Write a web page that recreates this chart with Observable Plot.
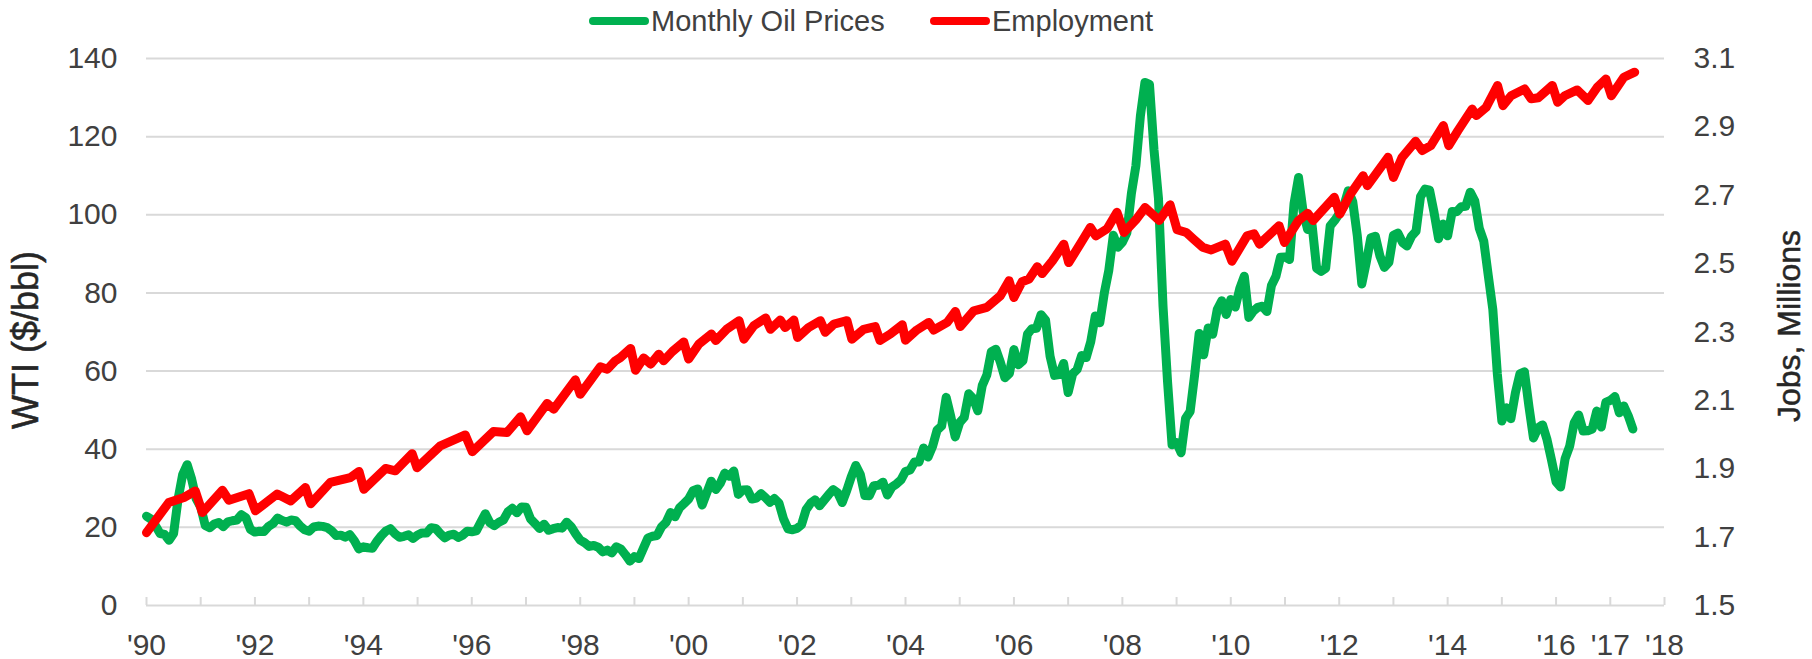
<!DOCTYPE html>
<html>
<head>
<meta charset="utf-8">
<script src="https://cdn.jsdelivr.net/npm/d3@7"></script>
<script src="https://cdn.jsdelivr.net/npm/@observablehq/plot@0.6"></script>
<style>
  body { margin: 0; background: #fff; font-family: "Liberation Sans", Arial, sans-serif; color: #404040; }
  #wrap { position: relative; width: 1812px; height: 659px; }
  #legend { position: relative; height: 42px; }
  .item { position: absolute; top: 0; height: 42px; display: flex; align-items: center; font-size: 29px; white-space: nowrap; }
  .swatch { width: 60px; height: 8px; border-radius: 4px; margin-right: 2px; }
  .title { position: absolute; transform: translate(-50%, -50%) rotate(-90deg); white-space: nowrap; font-weight: normal; color: #262626; -webkit-text-stroke: 0.5px #262626; }
</style>
</head>
<body>
<div id="wrap">
  <div id="legend"></div>
  <div id="chart"></div>
  <div class="title" style="left:26px;top:340px;font-size:36px">WTI ($/bbl)</div>
  <div class="title" style="left:1789px;top:326px;font-size:32px">Jobs, Millions</div>
</div>
<script>
// ---- Data ----
const seriesNames = ["Monthly Oil Prices", "Employment"];
const seriesColors = ["#00B050", "#FF0000"];

// WTI monthly average, Jan 1990 .. Jun 2017 ($/bbl)
const oilStartYear = 1990;
const oilPrices = [
  22.86,22.11,20.39,18.43,18.20,16.70,18.45,27.31,33.51,36.04,32.33,27.28, // 1990
  25.23,20.48,19.90,20.83,21.23,20.19,21.40,21.69,21.89,23.23,22.46,19.50, // 1991
  18.79,19.01,18.92,20.23,20.98,22.39,21.78,21.34,21.88,21.69,20.34,19.41, // 1992
  19.03,20.09,20.32,20.25,19.95,19.09,17.89,18.01,17.50,18.15,16.61,14.52, // 1993
  15.03,14.78,14.68,16.42,17.89,19.06,19.66,18.38,17.45,17.72,18.07,17.16, // 1994
  18.04,18.57,18.54,19.90,19.74,18.45,17.33,18.02,18.23,17.43,17.99,19.03, // 1995
  18.86,19.09,21.33,23.50,21.17,20.42,21.30,21.90,23.97,24.88,23.71,25.23, // 1996
  25.13,22.18,20.97,19.70,20.82,19.26,19.66,19.95,19.80,21.33,20.19,18.33, // 1997
  16.72,16.06,15.12,15.35,14.91,13.72,14.17,13.47,15.03,14.46,13.00,11.35, // 1998
  12.52,12.01,14.68,17.31,17.72,17.92,20.10,21.28,23.80,22.69,25.00,26.10, // 1999
  27.26,29.37,29.84,25.72,28.79,31.82,29.70,31.26,33.88,33.11,34.42,28.44, // 2000
  29.59,29.61,27.25,27.49,28.63,27.60,26.43,27.37,26.20,22.17,19.64,19.39, // 2001
  19.72,20.72,24.53,26.18,27.04,25.52,26.97,28.39,29.66,28.84,26.35,29.46, // 2002
  32.95,35.83,33.51,28.17,28.11,30.66,30.75,31.57,28.31,30.34,31.11,32.13, // 2003
  34.31,34.69,36.74,36.75,40.28,38.03,40.78,44.90,45.94,53.28,48.47,43.15, // 2004
  46.84,48.15,54.19,52.98,49.83,56.35,58.99,64.98,65.59,62.26,58.32,59.41, // 2005
  65.49,61.63,62.69,69.44,70.84,70.95,74.41,73.04,63.80,58.89,59.08,61.96, // 2006
  54.51,59.28,60.44,63.98,63.46,67.49,74.12,72.36,79.92,85.80,94.77,91.69, // 2007
  92.97,95.39,105.45,112.58,125.40,133.88,133.37,116.67,104.11,76.61,57.31,41.12, // 2008
  41.71,39.09,47.94,49.65,59.03,69.64,64.15,71.05,69.41,75.72,77.99,74.47, // 2009
  78.33,76.39,81.20,84.29,73.74,75.34,76.32,76.60,75.24,81.89,84.25,89.15, // 2010
  89.17,88.58,102.86,109.53,100.90,96.26,97.30,86.33,85.52,86.32,97.16,98.56, // 2011
  100.27,102.20,106.16,103.32,94.66,82.30,87.90,94.13,94.51,89.49,86.53,87.86, // 2012
  94.76,95.31,92.94,92.02,94.51,95.77,104.67,106.57,106.29,100.54,93.86,97.63, // 2013
  94.62,100.82,100.80,102.07,102.18,105.79,103.59,96.54,93.21,84.40,75.79,59.29, // 2014
  47.22,50.58,47.82,54.45,59.27,59.82,50.90,42.87,45.48,46.22,42.44,37.19, // 2015
  31.68,30.32,37.55,40.75,46.71,48.76,44.65,44.72,45.18,49.78,45.66,51.97, // 2016
  52.50,53.47,49.33,51.06,48.48,45.18                                      // 2017
];

// Employment (millions) at its turning points
const jobsDates = [
  1990.00,1990.41,1990.69,1990.90,1991.03,1991.40,1991.52,1991.89,1992.01,1992.41,
  1992.66,1992.93,1993.03,1993.39,1993.76,1993.92,1994.01,1994.41,1994.59,1994.90,
  1994.99,1995.42,1995.88,1996.01,1996.40,1996.65,1996.90,1997.02,1997.39,1997.51,
  1997.91,1998.00,1998.37,1998.50,1998.65,1998.74,1998.93,1999.02,1999.17,1999.30,
  1999.45,1999.54,1999.70,1999.91,2000.00,2000.19,2000.42,2000.50,2000.70,2000.93,
  2001.02,2001.20,2001.42,2001.51,2001.69,2001.78,2001.94,2002.01,2002.21,2002.43,
  2002.52,2002.68,2002.92,2003.01,2003.23,2003.44,2003.53,2003.72,2003.94,2004.00,
  2004.21,2004.43,2004.52,2004.77,2004.92,2005.01,2005.26,2005.50,2005.75,2005.91,
  2006.00,2006.15,2006.28,2006.43,2006.52,2006.71,2006.92,2007.01,2007.23,2007.41,
  2007.51,2007.72,2007.90,2008.03,2008.26,2008.42,2008.68,2008.88,2009.01,2009.18,
  2009.31,2009.48,2009.64,2009.90,2010.02,2010.30,2010.43,2010.53,2010.89,2010.99,
  2011.25,2011.42,2011.52,2011.91,2012.01,2012.21,2012.44,2012.52,2012.90,2013.00,
  2013.16,2013.41,2013.53,2013.69,2013.92,2014.02,2014.19,2014.45,2014.53,2014.71,
  2014.92,2015.02,2015.17,2015.42,2015.54,2015.67,2015.93,2016.03,2016.16,2016.39,
  2016.59,2016.76,2016.92,2017.02,2017.25,2017.45
];
const jobsValues = [
  1.713,1.801,1.816,1.835,1.772,1.837,1.808,1.827,1.777,1.826,
  1.806,1.845,1.798,1.860,1.874,1.892,1.840,1.901,1.894,1.944,
  1.903,1.967,1.999,1.950,2.009,2.006,2.052,2.011,2.091,2.074,
  2.160,2.118,2.198,2.191,2.216,2.225,2.252,2.188,2.224,2.206,
  2.235,2.216,2.243,2.271,2.221,2.265,2.294,2.275,2.308,2.333,
  2.279,2.318,2.341,2.308,2.335,2.313,2.335,2.284,2.313,2.333,
  2.299,2.323,2.333,2.279,2.308,2.316,2.275,2.294,2.321,2.276,
  2.306,2.328,2.306,2.328,2.360,2.316,2.362,2.372,2.406,2.450,
  2.401,2.447,2.455,2.491,2.471,2.508,2.557,2.503,2.559,2.606,
  2.581,2.602,2.650,2.591,2.630,2.664,2.626,2.672,2.599,2.591,
  2.572,2.548,2.540,2.557,2.507,2.581,2.587,2.557,2.611,2.562,
  2.626,2.647,2.626,2.694,2.645,2.704,2.757,2.728,2.811,2.752,
  2.811,2.858,2.831,2.845,2.904,2.845,2.889,2.952,2.933,2.957,
  3.021,2.962,2.991,3.011,2.982,2.985,3.021,2.972,2.991,3.008,
  2.977,3.016,3.040,2.991,3.045,3.060
];

// Axis ticks
const wtiTicks = [0, 20, 40, 60, 80, 100, 120, 140];
const jobsTicks = [1.5, 1.7, 1.9, 2.1, 2.3, 2.5, 2.7, 2.9, 3.1];
const yearTickMarks = d3.range(1990, 2019);
const yearLabels = [1990,1992,1994,1996,1998,2000,2002,2004,2006,2008,2010,2012,2014,2016,2017,2018];

// ---- Build ----
const wtiMin = 0, wtiMax = 140, jobsMin = 1.5, jobsMax = 3.1;
const toW = j => (j - jobsMin) / (jobsMax - jobsMin) * (wtiMax - wtiMin) + wtiMin;
const fromW = w => (w - wtiMin) / (wtiMax - wtiMin) * (jobsMax - jobsMin) + jobsMin;

const oilData = oilPrices.map((v, i) => ({t: oilStartYear + i / 12, v}));
const jobsData = jobsDates.map((t, i) => ({t, v: jobsValues[i]}));

const legend = document.getElementById("legend");
const legendLefts = [589, 930];
seriesNames.forEach((name, i) => {
  const it = document.createElement("div");
  it.className = "item";
  it.style.left = legendLefts[i] + "px";
  it.innerHTML = `<span class="swatch" style="background:${seriesColors[i]}"></span><span>${name}</span>`;
  legend.appendChild(it);
});

const gridColor = "#d9d9d9";
const chart = Plot.plot({
  width: 1812,
  height: 617,
  marginTop: 16,
  marginBottom: 54,
  marginLeft: 146,
  marginRight: 148,
  style: {fontFamily: "'Liberation Sans', Arial, sans-serif", fontSize: "30px", color: "#404040", background: "white", overflow: "visible"},
  x: {domain: [1990, 2018]},
  y: {domain: [wtiMin, wtiMax]},
  marks: [
    Plot.ruleY(wtiTicks, {stroke: gridColor, strokeWidth: 2}),
    Plot.ruleX(yearTickMarks, {x: d => d, y1: 0, y2: 0, insetTop: -8, stroke: gridColor, strokeWidth: 2}),
    Plot.axisY(wtiTicks, {anchor: "left", tickSize: 0, tickPadding: 29, label: null, fontSize: 30}),
    Plot.axisY(jobsTicks.map(toW), {anchor: "right", tickSize: 0, tickPadding: 29, label: null, fontSize: 30,
      tickFormat: d => fromW(d).toFixed(1)}),
    Plot.axisX(yearLabels, {anchor: "bottom", tickSize: 0, tickPadding: 28, label: null, fontSize: 30,
      tickFormat: d => "'" + String(d).slice(2)}),
    Plot.line(oilData, {x: "t", y: "v", stroke: seriesColors[0], strokeWidth: 9, strokeLinejoin: "round", strokeLinecap: "round"}),
    Plot.line(jobsData, {x: "t", y: d => toW(d.v), stroke: seriesColors[1], strokeWidth: 9, strokeLinejoin: "round", strokeLinecap: "round"})
  ]
});
document.getElementById("chart").appendChild(chart);
</script>
</body>
</html>
